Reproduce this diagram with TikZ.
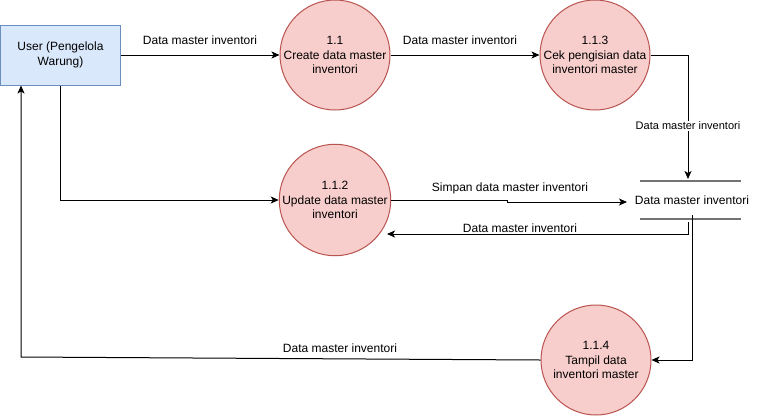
\documentclass[tikz,border=0pt]{standalone}
\usepackage{fontspec}
\setmainfont{Liberation Sans}
\usetikzlibrary{arrows.meta}
\definecolor{procfill}{HTML}{F8CECC}
\definecolor{procstroke}{HTML}{B85450}
\definecolor{entfill}{HTML}{DAE8FC}
\definecolor{entstroke}{HTML}{6C8EBF}
\begin{document}
\begin{tikzpicture}[x=1pt,y=-1pt,
  proc/.style={circle,draw=procstroke,fill=procfill,line width=1pt,minimum size=110pt,inner sep=0pt,align=center,font=\fontsize{12}{14.5}\selectfont},
  ent/.style={rectangle,draw=entstroke,fill=entfill,line width=1pt,minimum width=120pt,minimum height=60pt,inner sep=0pt,align=center,font=\fontsize{12}{14.5}\selectfont},
  store/.style={inner sep=0pt,font=\fontsize{12}{14.5}\selectfont},
  storeline/.style={line width=1.5pt,draw=black!55},
  flow/.style={line width=1pt,-{Stealth[length=8pt,width=7pt,inset=2pt]}},
  lbl/.style={font=\fontsize{12}{14}\selectfont,inner sep=1pt},
  smalllbl/.style={font=\fontsize{11}{13}\selectfont,inner sep=1pt,fill=white}
]
\useasboundingbox (0,0) rectangle (763,416);

\node[ent] (user) at (60.5,55) {User (Pengelola\\Warung)};
\node[proc] (p11) at (335,55) {1.1\\Create data master\\inventori};
\node[proc] (p113) at (595,55) {1.1.3\\Cek pengisian data\\inventori master};
\node[proc] (p112) at (335,200) {1.1.2\\Update data master\\inventori};
\node[proc] (p114) at (596,360) {1.1.4\\Tampil data\\inventori master};
\node[store] (ds) at (692,200) {Data master inventori};
\coordinate (dsnw) at ([xshift=-52pt,yshift=19pt]ds.center);
\coordinate (dsne) at ([xshift=49pt,yshift=19pt]ds.center);
\coordinate (dssw) at ([xshift=-52pt,yshift=-19pt]ds.center);
\coordinate (dsse) at ([xshift=49pt,yshift=-19pt]ds.center);
\draw[storeline] (dsnw) -- (dsne);
\draw[storeline] (dssw) -- (dsse);

% flows
\draw[flow] (user.east) -- (p11.west);
\node[lbl] (l1) at (200,40) {Data master inventori};

\draw[flow] (p11.east) -- (p113.west);
\node[lbl] (l2) at (460,40) {Data master inventori};

\coordinate (dsin) at (688,179);
\draw[flow] (p113.east) -| (dsin);
\node[smalllbl] (l3) at (688,126) {Data master inventori};

\draw[flow] (user.south) |- (p112.west);

\coordinate (sj1) at (507,200);
\coordinate (sj2) at (507,202);
\coordinate (sin) at (627,202);
\draw[flow] (p112.east) -- (sj1) -- (sj2) -- (sin);
\node[lbl] (l4) at (510,188) {Simpan data master inventori};

\coordinate (rout) at (688,222);
\coordinate (rbend) at (688,234);
\coordinate (rin) at (387,234);
\draw[flow] (rout) -- (rbend) -- (rin);
\node[lbl] (l5) at (520,228) {Data master inventori};

\coordinate (tout) at (692,215);
\draw[flow] (tout) |- (p114.east);

\coordinate (ubend) at (21,357);
\coordinate (uin) at ([xshift=21pt]user.south west);
\draw[flow] (p114.west) -- (ubend) -- (uin);
\node[lbl] (l6) at (340,348) {Data master inventori};
\end{tikzpicture}
\end{document}
